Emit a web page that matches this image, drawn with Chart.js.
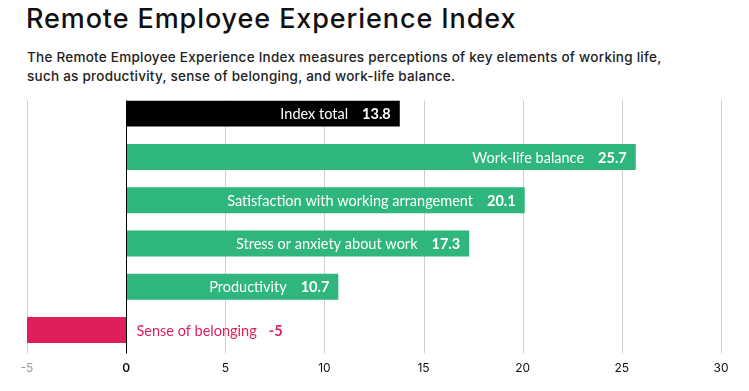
<!DOCTYPE html>
<html>
<head>
<meta charset="utf-8">
<script src="https://cdn.jsdelivr.net/npm/chart.js@4.4.0/dist/chart.umd.min.js"></script>
<style>
  html, body { margin: 0; padding: 0; background: #fff; }
  body { width: 749px; height: 391px; position: relative; overflow: hidden; font-family: Inter, sans-serif; }
  h1 { position: absolute; left: 26px; top: 3px; margin: 0; font-size: 27px; line-height: 32px; font-weight: 500; color: #111; letter-spacing: 0.9px; }
  p.sub { position: absolute; left: 27px; top: 48px; margin: 0; font-size: 13.5px; line-height: 19px; font-weight: 500; color: #222; letter-spacing: 0.25px; width: 720px; }
  #wrap { position: absolute; left: 0; top: 0; width: 749px; height: 391px; }
</style>
</head>
<body>
<h1>Remote Employee Experience Index</h1>
<p class="sub">The Remote Employee Experience Index measures perceptions of key elements of working life,<br>such as productivity, sense of belonging, and work-life balance.</p>
<div id="wrap"><canvas id="grafiek"></canvas></div>
<script>
// Categorieën en waarden
const labels = [
    "Index total",
    "Work-life balance",
    "Satisfaction with working arrangement",
    "Stress or anxiety about work",
    "Productivity",
    "Sense of belonging"
];
const waarden = [13.8, 25.7, 20.1, 17.3, 10.7, -5];
const kleuren = ["#000000", "#2EB67D", "#2EB67D", "#2EB67D", "#2EB67D", "#E01E5A"];
const xTicks = [-5, 0, 5, 10, 15, 20, 25, 30];

const FONT = "Lato, sans-serif";

// Rasterlijnen vanaf de bovenkant van de eerste balk
const rasterPlugin = {
    id: 'raster',
    beforeDatasetsDraw(chart) {
        const ctx = chart.ctx;
        const x = chart.scales.x;
        const bar = chart.getDatasetMeta(0).data[0];
        const top = bar.y - bar.height / 2;
        const bottom = chart.chartArea.bottom + 2;
        ctx.save();
        xTicks.forEach(v => {
            if (v === 0) return;
            const px = Math.round(x.getPixelForValue(v)) + 0.5;
            ctx.strokeStyle = '#cfcfcf';
            ctx.lineWidth = 1;
            ctx.beginPath();
            ctx.moveTo(px, top);
            ctx.lineTo(px, bottom);
            ctx.stroke();
        });
        ctx.restore();
    },
    afterDatasetsDraw(chart) {
        const ctx = chart.ctx;
        const x = chart.scales.x;
        const meta = chart.getDatasetMeta(0);
        const bar = meta.data[0];
        const top = bar.y - bar.height / 2;
        const bottom = chart.chartArea.bottom + 2;
        const nul = Math.round(x.getPixelForValue(0)) + 0.5;
        ctx.save();
        ctx.strokeStyle = '#000';
        ctx.lineWidth = 1;
        ctx.beginPath();
        ctx.moveTo(nul, top);
        ctx.lineTo(nul, bottom);
        ctx.stroke();

        // Labels in / naast de balken
        ctx.textBaseline = 'middle';
        meta.data.forEach((el, i) => {
            const v = waarden[i];
            const waardeTekst = String(v);
            const normaal = `400 14.5px ${FONT}`;
            const vet = `700 14.5px ${FONT}`;
            if (v >= 0) {
                ctx.fillStyle = '#fff';
                ctx.textAlign = 'right';
                ctx.font = vet;
                const eind = el.x - 9;
                ctx.fillText(waardeTekst, eind, el.y + 1);
                const w = ctx.measureText(waardeTekst).width;
                ctx.font = normaal;
                ctx.fillText(labels[i], eind - w - 14, el.y + 1);
            } else {
                ctx.fillStyle = kleuren[i];
                ctx.textAlign = 'left';
                ctx.font = normaal;
                const start = nul + 10;
                ctx.fillText(labels[i], start, el.y + 1);
                const w = ctx.measureText(labels[i]).width;
                ctx.font = vet;
                ctx.fillText(waardeTekst, start + w + 12, el.y + 1);
            }
        });
        ctx.restore();
    }
};

new Chart(document.getElementById('grafiek'), {
    type: 'bar',
    data: {
        labels: labels,
        datasets: [{
            data: waarden,
            backgroundColor: kleuren,
            borderWidth: 0,
            categoryPercentage: 1,
            barPercentage: 0.6
        }]
    },
    options: {
        indexAxis: 'y',
        responsive: true,
        maintainAspectRatio: false,
        animation: false,
        layout: { padding: { top: 92, left: 27, right: 28, bottom: 5 } },
        scales: {
            x: {
                min: -5,
                max: 30,
                afterBuildTicks: axis => { axis.ticks = xTicks.map(v => ({ value: v })); },
                grid: { display: false, drawTicks: false },
                border: { display: false },
                ticks: {
                    padding: 10,
                    maxRotation: 0,
                    color: c => c.tick.value === -5 ? '#9a9a9a' : '#111',
                    font: c => ({ family: "Inter, sans-serif", size: 12, weight: c.tick && c.tick.value === 0 ? '600' : '400' })
                }
            },
            y: { display: false }
        },
        plugins: {
            legend: { display: false },
            tooltip: { enabled: false }
        }
    },
    plugins: [rasterPlugin]
});
</script>
</body>
</html>
